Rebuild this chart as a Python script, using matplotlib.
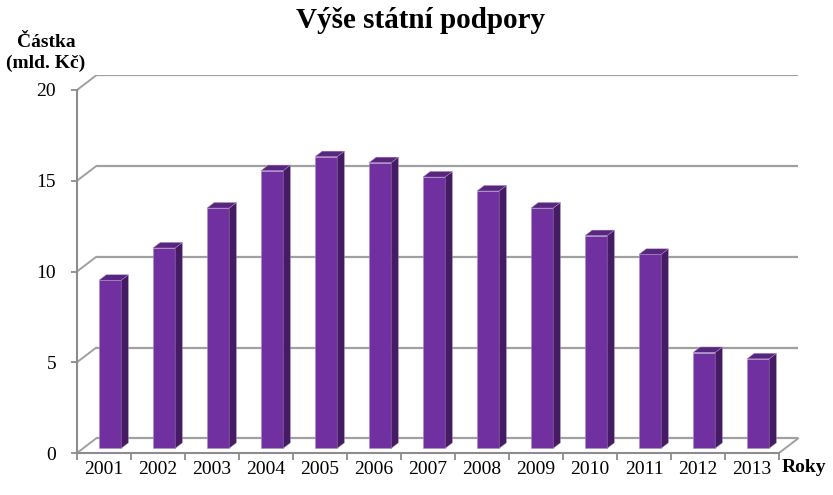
import numpy as np
import matplotlib
matplotlib.use("Agg")
import matplotlib.pyplot as plt
from matplotlib.patches import Polygon

plt.rcParams['font.family'] = ['Liberation Serif', 'DejaVu Serif']

# data
years = ['2001', '2002', '2003', '2004', '2005', '2006', '2007',
         '2008', '2009', '2010', '2011', '2012', '2013']
values = [9.26, 11.04, 13.24, 15.30, 16.07, 15.74, 14.95,
          14.18, 13.24, 11.72, 10.69, 5.28, 4.93]
yticks = [0, 5, 10, 15, 20]

title = "Výše státní podpory"
ylabel = "Částka\n(mld. Kč)"
xlabel = "Roky"

# fake 3d look: depth offset of the back wall in data units
DX, DY = 0.352, 0.80
F0, F1 = 0.32, 0.70      # bar front / back as fraction of depth
BAR_W = 0.41
FRONT, SIDE, TOP = '#7030A0', '#451C63', '#58267F'
EDGE = '#A98BC2'
GRID = '#A0A0A0'

fig = plt.figure(figsize=(8.33, 4.95), dpi=100)
W, H = 833, 495
ax = fig.add_axes([77 / W, (H - 453) / H, 723 / W, 378 / H])
n = len(years)
ax.set_xlim(-0.5, -0.5 + 723 / 54)
ax.set_ylim(0, 378 / 18.15)

# walls: back grid lines + side wall diagonals
for v in yticks:
    ax.plot([-0.5 + DX, n - 0.5 + DX], [v + DY, v + DY], color=GRID, lw=1.6,
            solid_capstyle='butt', zorder=1)
    ax.plot([-0.5, -0.5 + DX], [v, v + DY], color=GRID, lw=1.4, zorder=1)
# floor right edge
ax.plot([n - 0.5, n - 0.5 + DX], [0, DY], color=GRID, lw=1.4, zorder=1)

# bars
x = np.arange(n)
xf = x + F0 * DX
y0 = F0 * DY
ddx, ddy = (F1 - F0) * DX, (F1 - F0) * DY
ax.bar(xf, values, width=BAR_W, bottom=y0, color=FRONT, edgecolor=EDGE,
       linewidth=0.4, zorder=3)
for xi, v in zip(xf, values):
    xl, xr = xi - BAR_W / 2, xi + BAR_W / 2
    top = y0 + v
    side = Polygon([(xr, y0), (xr + ddx, y0 + ddy), (xr + ddx, top + ddy), (xr, top)],
                   closed=True, facecolor=SIDE, edgecolor=EDGE, lw=0.3, zorder=3)
    lid = Polygon([(xl, top), (xr, top), (xr + ddx, top + ddy), (xl + ddx, top + ddy)],
                  closed=True, facecolor=TOP, edgecolor=EDGE, lw=0.3, zorder=3)
    ax.add_patch(side)
    ax.add_patch(lid)

# axes
for s in ['top', 'right']:
    ax.spines[s].set_visible(False)
for s in ['left', 'bottom']:
    ax.spines[s].set_color('#8C8C8C')
    ax.spines[s].set_linewidth(1.5)
ax.spines['left'].set_bounds(0, 20)
ax.spines['bottom'].set_bounds(-0.5, n - 0.5)

ax.set_yticks(yticks)
ax.set_yticklabels([str(t) for t in yticks], fontsize=14)
ax.tick_params(axis='y', length=4, width=1.3, color='#8C8C8C', pad=11)

ax.set_xticks(x)
ax.set_xticklabels(years, fontsize=14)
ax.set_xticks(np.arange(n + 1) - 0.5, minor=True)
ax.tick_params(axis='x', which='major', length=0, pad=6)
ax.tick_params(axis='x', which='minor', length=5, width=1.3, color='#8C8C8C')

fig.text(420 / W, 1 - 21 / H, title, ha='center', va='center',
         fontsize=21, fontweight='bold')
fig.text(46 / W, 1 - 53 / H, ylabel, ha='center', va='center',
         fontsize=14, fontweight='bold', linespacing=1.35)
fig.text(782 / W, 1 - 467 / H, xlabel, ha='left', va='center',
         fontsize=14, fontweight='bold')

fig.savefig('out.png', dpi=100)
